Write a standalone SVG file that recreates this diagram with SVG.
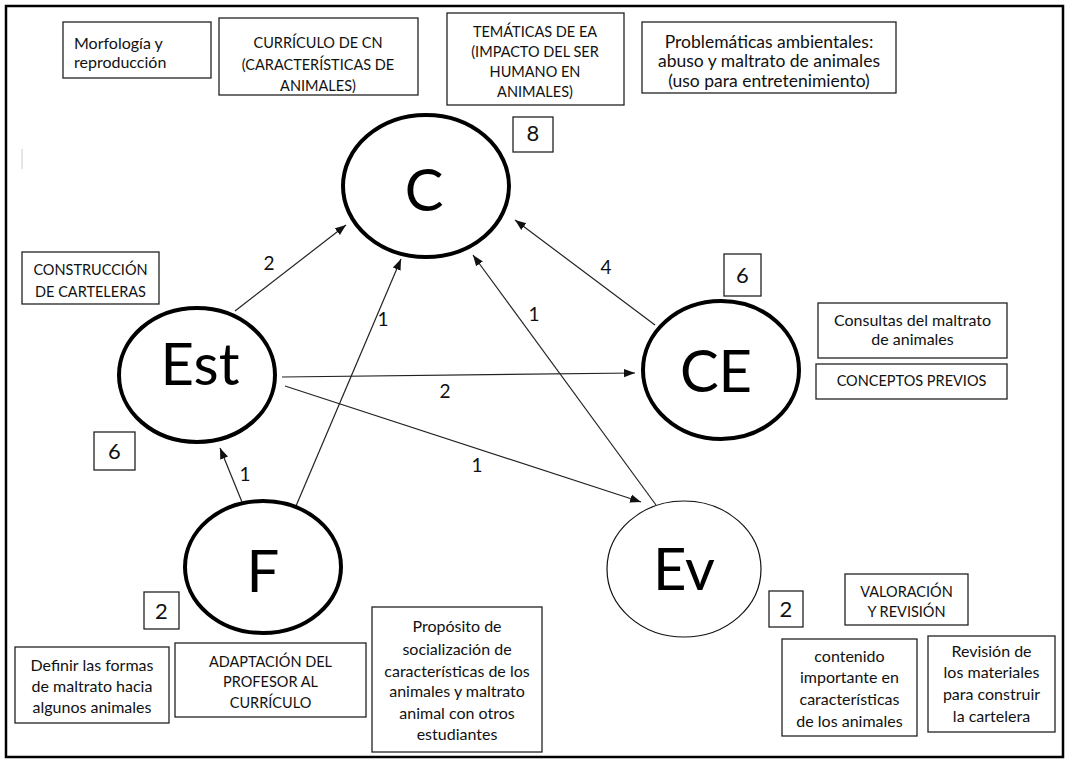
<svg xmlns="http://www.w3.org/2000/svg" width="1069" height="760" viewBox="0 0 1069 760">
<defs>
<style>
.frame{fill:#fff;stroke:#000;stroke-width:2.5}
.box{fill:#fff;stroke:#222;stroke-width:1.3}
.node{fill:#fff;stroke:#000;stroke-width:4}
.thin{fill:#fff;stroke:#111;stroke-width:1.2}
.t{font-family:Lato,"Liberation Sans",sans-serif;font-size:16px;fill:#111;text-anchor:middle}
.u{font-size:14.5px}
.p{font-size:17.5px}
.tl{text-anchor:start}
.num{font-family:Lato,"Liberation Sans",sans-serif;font-size:22px;fill:#111;text-anchor:middle}
.big{font-family:Lato,"Liberation Sans",sans-serif;font-size:58px;fill:#000;text-anchor:middle}
.lbl{font-family:Lato,"Liberation Sans",sans-serif;font-size:19px;fill:#111;text-anchor:middle}
.edge{stroke:#222;stroke-width:1.2;fill:none;marker-end:url(#ah)}
</style>
<marker id="ah" markerWidth="12" markerHeight="10" refX="11" refY="5" orient="auto" markerUnits="userSpaceOnUse">
<path d="M0,0.8 L11,5 L0,9.2 Z" fill="#111"/>
</marker>
</defs>
<rect x="0" y="0" width="1069" height="760" fill="#fff"/>
<rect class="frame" x="6" y="6" width="1057" height="751"/>
<line x1="22" y1="149" x2="22" y2="169" stroke="#ccc" stroke-width="1"/>

<g id="connectors">
<line class="edge" x1="235" y1="311" x2="346" y2="225"/>
<text class="lbl" x="269" y="270">2</text>
<line class="edge" x1="296" y1="506" x2="401" y2="259"/>
<text class="lbl" x="383" y="326">1</text>
<line class="edge" x1="656" y1="505" x2="473" y2="255"/>
<text class="lbl" x="534" y="321">1</text>
<line class="edge" x1="655" y1="325" x2="515" y2="220"/>
<text class="lbl" x="606" y="274">4</text>
<line class="edge" x1="282" y1="377" x2="635" y2="373"/>
<text class="lbl" x="445" y="398">2</text>
<line class="edge" x1="285" y1="386" x2="641" y2="502"/>
<text class="lbl" x="477" y="472">1</text>
<line class="edge" x1="242" y1="502" x2="220" y2="448"/>
<text class="lbl" x="245" y="481">1</text>
</g>

<g id="node-C">
<ellipse class="node" cx="426" cy="186" rx="83" ry="71"/>
<text class="big" x="424" y="211">C</text>
</g>
<g id="node-Est">
<ellipse class="node" cx="197" cy="375" rx="78" ry="67"/>
<text class="big" x="200" y="385">Est</text>
</g>
<g id="node-CE">
<ellipse class="node" cx="721" cy="370" rx="78" ry="69"/>
<text class="big" x="716" y="392">CE</text>
</g>
<g id="node-F">
<ellipse class="node" cx="263" cy="567" rx="78" ry="66"/>
<text class="big" x="263" y="592">F</text>
</g>
<g id="node-Ev">
<ellipse class="thin" cx="684" cy="569" rx="77" ry="68"/>
<text class="big" x="684" y="590">Ev</text>
</g>

<g id="box-morfologia">
<rect class="box" x="63" y="22" width="148" height="56"/>
<text class="t tl" x="74" y="49">Morfología y</text>
<text class="t tl" x="74" y="68">reproducción</text>
</g>
<g id="box-curriculo">
<rect class="box" x="219" y="18" width="199" height="77"/>
<text class="t u" x="318" y="48">CURRÍCULO DE CN</text>
<text class="t u" x="318" y="70">(CARACTERÍSTICAS DE</text>
<text class="t u" x="318" y="91">ANIMALES)</text>
</g>
<g id="box-tematicas">
<rect class="box" x="447" y="13" width="177" height="92"/>
<text class="t u" x="535" y="37">TEMÁTICAS DE EA</text>
<text class="t u" x="535" y="57">(IMPACTO DEL SER</text>
<text class="t u" x="535" y="77">HUMANO EN</text>
<text class="t u" x="535" y="97">ANIMALES)</text>
</g>
<g id="box-problematicas">
<rect class="box" x="642" y="22" width="254" height="71"/>
<text class="t p" x="769" y="48">Problemáticas ambientales:</text>
<text class="t p" x="769" y="67">abuso y maltrato de animales</text>
<text class="t p" x="769" y="87">(uso para entretenimiento)</text>
</g>
<g id="box-8">
<rect class="box" x="513" y="117" width="40" height="35"/>
<text class="num" x="533" y="141">8</text>
</g>
<g id="box-construccion">
<rect class="box" x="22" y="252" width="137" height="52"/>
<text class="t u" x="90.5" y="275">CONSTRUCCIÓN</text>
<text class="t u" x="90.5" y="297">DE CARTELERAS</text>
</g>
<g id="box-6-est">
<rect class="box" x="94" y="432" width="41" height="38"/>
<text class="num" x="114.5" y="459">6</text>
</g>
<g id="box-6-ce">
<rect class="box" x="724" y="254" width="37" height="42"/>
<text class="num" x="742.5" y="283">6</text>
</g>
<g id="box-consultas">
<rect class="box" x="818" y="303" width="189" height="55"/>
<text class="t" x="912.5" y="326">Consultas del maltrato</text>
<text class="t" x="912.5" y="345">de animales</text>
</g>
<g id="box-conceptos">
<rect class="box" x="816" y="364" width="191" height="35"/>
<text class="t u" x="911.5" y="386">CONCEPTOS PREVIOS</text>
</g>
<g id="box-2-f">
<rect class="box" x="144" y="592" width="35" height="37"/>
<text class="num" x="161.5" y="619">2</text>
</g>
<g id="box-definir">
<rect class="box" x="15" y="647" width="154" height="76"/>
<text class="t" x="92" y="671">Definir las formas</text>
<text class="t" x="92" y="692">de maltrato hacia</text>
<text class="t" x="92" y="713">algunos animales</text>
</g>
<g id="box-adaptacion">
<rect class="box" x="175" y="643" width="191" height="74"/>
<text class="t u" x="270.5" y="667">ADAPTACIÓN DEL</text>
<text class="t u" x="270.5" y="687">PROFESOR AL</text>
<text class="t u" x="270.5" y="708">CURRÍCULO</text>
</g>
<g id="box-proposito">
<rect class="box" x="372" y="607" width="170" height="145"/>
<text class="t" x="457" y="632">Propósito de</text>
<text class="t" x="457" y="655">socialización de</text>
<text class="t" x="457" y="677">características de los</text>
<text class="t" x="457" y="697">animales y maltrato</text>
<text class="t" x="457" y="719">animal con otros</text>
<text class="t" x="457" y="740">estudiantes</text>
</g>
<g id="box-2-ev">
<rect class="box" x="769" y="591" width="34" height="36"/>
<text class="num" x="786" y="617">2</text>
</g>
<g id="box-valoracion">
<rect class="box" x="845" y="574" width="123" height="51"/>
<text class="t u" x="906.5" y="597">VALORACIÓN</text>
<text class="t u" x="906.5" y="617">Y REVISIÓN</text>
</g>
<g id="box-contenido">
<rect class="box" x="782" y="639" width="135" height="97"/>
<text class="t" x="849.5" y="662">contenido</text>
<text class="t" x="849.5" y="683">importante en</text>
<text class="t" x="849.5" y="705">características</text>
<text class="t" x="849.5" y="727">de los animales</text>
</g>
<g id="box-revision">
<rect class="box" x="928" y="636" width="127" height="96"/>
<text class="t" x="991.5" y="657">Revisión de</text>
<text class="t" x="991.5" y="678">los materiales</text>
<text class="t" x="991.5" y="700">para construir</text>
<text class="t" x="991.5" y="722">la cartelera</text>
</g>
</svg>
